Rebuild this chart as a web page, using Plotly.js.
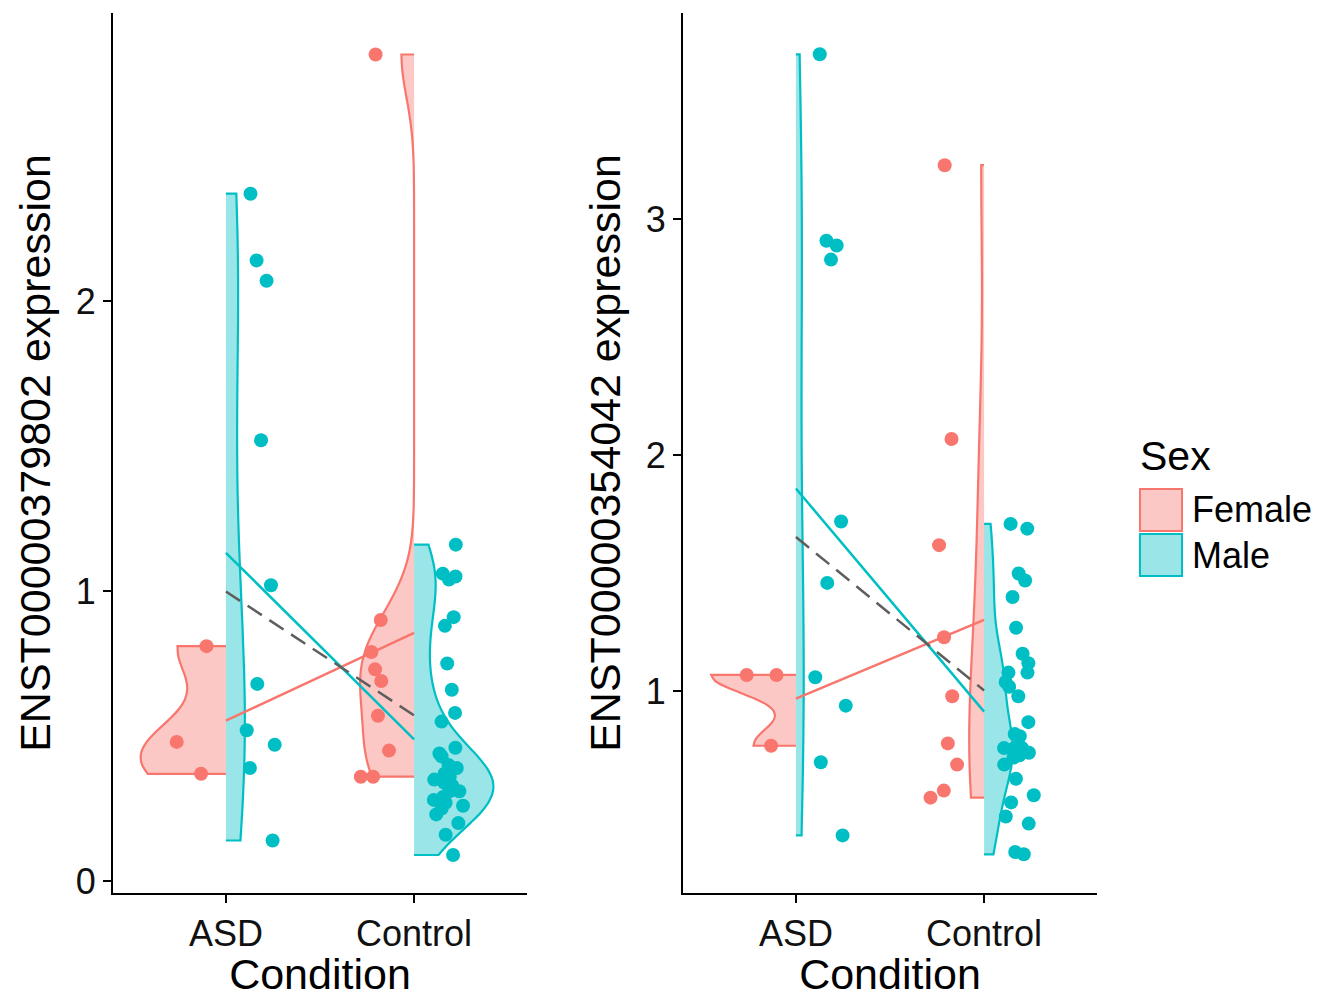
<!DOCTYPE html>
<html><head><meta charset="utf-8">
<script src="https://cdn.plot.ly/plotly-3.0.1.min.js"></script>
<style>html,body{margin:0;padding:0;background:#fff}</style>
</head><body>
<div id="chart" style="width:1321px;height:998px"></div>
<script>
// ---------- data ----------
const conditions = ['ASD', 'Control'];
const sexes = ['Female', 'Male'];
const yTitles = ['ENST00000379802 expression', 'ENST00000354042 expression'];
const xTitle = 'Condition';
const legendTitle = 'Sex';

// Panel 1: ENST00000379802
const p1FemaleASD = [0.81, 0.48, 0.37];
const p1MaleASD = [2.37, 2.14, 2.07, 1.52, 1.02, 0.68, 0.52, 0.47, 0.39, 0.14];
const p1FemaleControl = [2.85, 0.90, 0.79, 0.73, 0.69, 0.57, 0.45, 0.36, 0.36];
const p1MaleControl = [1.16, 1.06, 1.05, 1.04, 0.91, 0.88, 0.75, 0.66, 0.58, 0.55,
  0.46, 0.44, 0.43, 0.40, 0.39, 0.37, 0.36, 0.35, 0.34, 0.33, 0.31, 0.31, 0.29, 0.28,
  0.27, 0.26, 0.25, 0.23, 0.20, 0.16, 0.09];

// Panel 2: ENST00000354042
const p2FemaleASD = [1.07, 1.07, 0.77];
const p2MaleASD = [3.70, 2.91, 2.89, 2.83, 1.72, 1.46, 1.06, 0.94, 0.70, 0.39];
const p2FemaleControl = [3.23, 2.07, 1.62, 1.23, 0.98, 0.78, 0.69, 0.58, 0.55];
const p2MaleControl = [1.71, 1.69, 1.50, 1.47, 1.40, 1.27, 1.16, 1.12, 1.08, 1.08,
  1.04, 1.02, 0.98, 0.87, 0.82, 0.81, 0.76, 0.76, 0.76, 0.74, 0.73, 0.72, 0.69, 0.63,
  0.56, 0.53, 0.47, 0.44, 0.32, 0.31];

const yTicks1 = [0, 1, 2];
const yTicks2 = [1, 2, 3];

// ---------- styling ----------
const colors = {Female: '#F8766D', Male: '#00BFC4'};
const fills = {Female: 'rgba(248,118,109,0.4)', Male: 'rgba(0,191,196,0.4)'};
const FONT = 'Liberation Sans, Arial, Helvetica, sans-serif';
const W = 1321, H = 998;

const panels = [
  {xa: 'x', ya: 'y', data: {Female: {ASD: p1FemaleASD, Control: p1FemaleControl},
                             Male: {ASD: p1MaleASD, Control: p1MaleControl}}},
  {xa: 'x2', ya: 'y2', data: {Female: {ASD: p2FemaleASD, Control: p2FemaleControl},
                               Male: {ASD: p2MaleASD, Control: p2MaleControl}}}
];

// ---------- stats helpers (R's bw.nrd0, gaussian KDE) ----------
function mean(a) { return a.reduce((s, v) => s + v, 0) / a.length; }
function sd(a) { const m = mean(a); return Math.sqrt(a.reduce((s, v) => s + (v - m) * (v - m), 0) / (a.length - 1)); }
function quantile7(a, p) {
  const s = a.slice().sort((u, v) => u - v);
  const h = (s.length - 1) * p, lo = Math.floor(h), hi = Math.ceil(h);
  return s[lo] + (h - lo) * (s[hi] - s[lo]);
}
function nrd0(a) {
  const hi = sd(a);
  let lo = Math.min(hi, (quantile7(a, 0.75) - quantile7(a, 0.25)) / 1.34);
  if (!lo) lo = hi || Math.abs(a[0]) || 1;
  return 0.9 * lo * Math.pow(a.length, -0.2);
}
function kdeMax(a, bw) {
  const mn = Math.min(...a), mx = Math.max(...a);
  let best = 0;
  for (let i = 0; i <= 511; i++) {
    const x = mn + (mx - mn) * i / 511;
    let s = 0;
    for (const v of a) { const u = (x - v) / bw; s += Math.exp(-0.5 * u * u); }
    s /= (a.length * bw * Math.sqrt(2 * Math.PI));
    if (s > best) best = s;
  }
  return best;
}

const traces = [];
const lineTraces = [];
panels.forEach(p => {
  // area scaling: common density scale across the panel
  const info = {};
  let panelMax = 0;
  sexes.forEach(sx => conditions.forEach(c => {
    const vals = p.data[sx][c];
    const bw = nrd0(vals);
    const mk = kdeMax(vals, bw);
    info[sx + c] = {bw, mk};
    if (mk > panelMax) panelMax = mk;
  }));
  // half violins
  sexes.forEach(sx => conditions.forEach(c => {
    const vals = p.data[sx][c];
    const it = info[sx + c];
    traces.push({
      type: 'violin', xaxis: p.xa, yaxis: p.ya,
      x: vals.map(() => c), y: vals,
      side: sx === 'Female' ? 'negative' : 'positive',
      bandwidth: it.bw, spanmode: 'hard', scalemode: 'width',
      width: 0.9 * it.mk / panelMax,
      points: false, box: {visible: false}, meanline: {visible: false},
      line: {color: colors[sx], width: 2.2}, fillcolor: fills[sx],
      name: sx, showlegend: false, hoverinfo: 'y'
    });
  }));
  // jittered points (dodged per sex)
  sexes.forEach(sx => {
    const xs = [], ys = [];
    conditions.forEach(c => p.data[sx][c].forEach(v => { xs.push(c); ys.push(v); }));
    traces.push({
      type: 'box', xaxis: p.xa, yaxis: p.ya, x: xs, y: ys,
      boxpoints: 'all', jitter: 0.28, pointpos: sx === 'Female' ? -0.475 : 0.475,
      width: 0.8, line: {width: 0, color: 'rgba(0,0,0,0)'}, fillcolor: 'rgba(0,0,0,0)',
      marker: {color: colors[sx], size: 14, line: {width: 0}},
      name: sx, showlegend: false, hoverinfo: 'y'
    });
  });
  // mean lines
  sexes.forEach(sx => {
    lineTraces.push({
      type: 'scatter', mode: 'lines', xaxis: p.xa, yaxis: p.ya,
      x: conditions, y: conditions.map(c => mean(p.data[sx][c])),
      line: {color: colors[sx], width: 2.5}, showlegend: false, hoverinfo: 'y'
    });
  });
  lineTraces.push({
    type: 'scatter', mode: 'lines', xaxis: p.xa, yaxis: p.ya,
    x: conditions,
    y: conditions.map(c => mean(p.data.Female[c].concat(p.data.Male[c]))),
    line: {color: '#5e5e5e', width: 2.5, dash: '17px,9px'}, showlegend: false, hoverinfo: 'y'
  });
});

// ---------- layout ----------
const yDom = [1 - 893 / H, 1 - 13 / H];
function xAxis(domain, anchor) {
  return {
    domain, anchor, type: 'category', categoryorder: 'array', categoryarray: conditions,
    range: [-0.6, 1.6], showgrid: false, zeroline: false,
    showline: true, linecolor: '#000', linewidth: 2,
    ticks: 'outside', ticklen: 8, tickwidth: 2, tickcolor: '#000',
    tickfont: {size: 36, color: '#111', family: FONT},
    title: {text: xTitle, font: {size: 43, color: '#000', family: FONT}, standoff: 6}
  };
}
function yAxis(range, tickvals, title, anchor) {
  return {
    domain: yDom, anchor, range, tickvals, ticktext: tickvals.map(String),
    showgrid: false, zeroline: false,
    showline: true, linecolor: '#000', linewidth: 2,
    ticks: 'outside', ticklen: 8, tickwidth: 2, tickcolor: '#000',
    tickfont: {size: 36, color: '#111', family: FONT},
    title: {text: title, font: {size: 43, color: '#000', family: FONT}, standoff: 12}
  };
}

function px(x) { return x / W; }
function py(y) { return 1 - y / H; }

const shapes = [
  {type: 'rect', xref: 'paper', yref: 'paper', x0: px(1140), x1: px(1182), y0: py(531), y1: py(489),
   line: {color: colors.Female, width: 2}, fillcolor: fills.Female},
  {type: 'rect', xref: 'paper', yref: 'paper', x0: px(1140), x1: px(1182), y0: py(576), y1: py(534),
   line: {color: colors.Male, width: 2}, fillcolor: fills.Male}
];
const annotations = [
  {text: legendTitle, xref: 'paper', yref: 'paper', x: px(1138), y: py(456), xanchor: 'left', yanchor: 'middle',
   showarrow: false, font: {size: 41, color: '#000', family: FONT}},
  {text: sexes[0], xref: 'paper', yref: 'paper', x: px(1190), y: py(510), xanchor: 'left', yanchor: 'middle',
   showarrow: false, font: {size: 36, color: '#000', family: FONT}},
  {text: sexes[1], xref: 'paper', yref: 'paper', x: px(1190), y: py(555), xanchor: 'left', yanchor: 'middle',
   showarrow: false, font: {size: 36, color: '#000', family: FONT}}
];

const layout = {
  width: W, height: H, margin: {l: 0, r: 0, t: 0, b: 0},
  paper_bgcolor: '#fff', plot_bgcolor: '#fff',
  font: {family: FONT, color: '#000'},
  showlegend: false, violinmode: 'overlay', boxmode: 'overlay',
  xaxis: xAxis([113 / W, 527 / W], 'y'),
  yaxis: yAxis([-0.041, 2.993], yTicks1, yTitles[0], 'x'),
  xaxis2: xAxis([683 / W, 1097 / W], 'y2'),
  yaxis2: yAxis([0.146, 3.875], yTicks2, yTitles[1], 'x2'),
  shapes, annotations
};

Plotly.newPlot('chart', traces.concat(lineTraces), layout, {displayModeBar: false, staticPlot: true});
</script>
</body></html>
